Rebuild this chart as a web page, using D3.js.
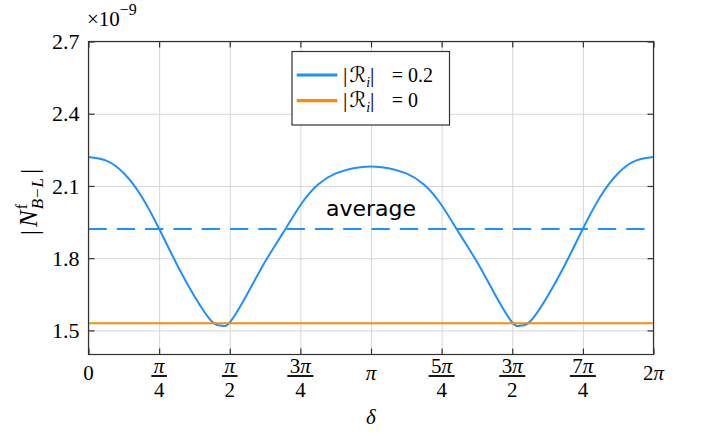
<!DOCTYPE html>
<html>
<head>
<meta charset="utf-8">
<script src="https://cdn.jsdelivr.net/npm/d3@7"></script>
<style>
  body { margin: 0; background: #fff; }
  svg { display: block; }
</style>
</head>
<body>
<div id="area"></div>
<script>
// delta in units of pi
var deltaPi = [0, 1/16, 2/16, 3/16, 4/16, 5/16, 6/16, 7/16, 0.47, 8/16, 9/16, 10/16, 11/16, 12/16, 13/16, 14/16, 15/16,
               1, 17/16, 18/16, 19/16, 20/16, 21/16, 22/16, 23/16, 24/16, 1.53, 25/16, 26/16, 27/16, 28/16, 29/16, 30/16, 31/16, 2];
// |N_B-L| (x 1e-9) for |R_i| = 0.2
var nbl = [2.220, 2.205, 2.153, 2.057, 1.922, 1.775, 1.642, 1.536, 1.520, 1.533, 1.652, 1.785, 1.903, 2.020, 2.106, 2.152, 2.174,
           2.181, 2.174, 2.152, 2.106, 2.020, 1.903, 1.785, 1.652, 1.533, 1.520, 1.536, 1.642, 1.775, 1.922, 2.057, 2.153, 2.205, 2.220];
// |R_i| = 0 is flat
var zeroDelta = [0, 2];
var nblZero = [1.53, 1.53];
var average = 1.921;
var averageLabel = {x: 1, y: 1.976, text: "average"};

var xTicks = [0, 0.25, 0.5, 0.75, 1, 1.25, 1.5, 1.75, 2];
// single label or [numerator, denominator]
var xTickLabels = [["0"], ["π", "4"], ["π", "2"], ["3π", "4"], ["π"], ["5π", "4"], ["3π", "2"], ["7π", "4"], ["2π"]];
var yTicks = [1.5, 1.8, 2.1, 2.4, 2.7];
var yDomain = [1.4, 2.7];
var legendValues = ["0.2", "0"];
var colors = ["#1e90ff", "#ff8c00"];

var width = 704, height = 434;
var margin_top = 41.5, margin_bottom = 79.5, margin_left = 88.5, margin_right = 50.5;
var w = width - margin_left - margin_right;
var h = height - margin_top - margin_bottom;
var serif = "'Liberation Serif', 'DejaVu Serif', serif";

var root = d3.select("#area")
.append("svg")
  .attr("width", width)
  .attr("height", height);

var svg = root.append("g")
  .attr("transform", "translate(" + margin_left + "," + margin_top + ")");

var x = d3.scaleLinear().domain([0, 2]).range([0, w]);
var y = d3.scaleLinear().domain(yDomain).range([h, 0]);

// grid
svg.append("g")
  .attr("transform", "translate(0," + h + ")")
  .call(d3.axisBottom(x).tickValues(xTicks).tickSize(-h).tickFormat(""))
  .call(function(g) { g.select(".domain").remove(); })
  .selectAll("line").attr("stroke", "#d6d6d6").attr("stroke-width", 1);
svg.append("g")
  .call(d3.axisLeft(y).tickValues(yTicks).tickSize(-w).tickFormat(""))
  .call(function(g) { g.select(".domain").remove(); })
  .selectAll("line").attr("stroke", "#d6d6d6").attr("stroke-width", 1);

// curves
var line = d3.line()
  .x(function(d) { return x(d[0]); })
  .y(function(d) { return y(d[1]); });

svg.append("path")
  .datum(deltaPi.map(function(d, i) { return [d, nbl[i]]; }))
  .attr("fill", "none")
  .attr("stroke", colors[0])
  .attr("stroke-width", 2)
  .attr("d", line.curve(d3.curveNatural));

svg.append("path")
  .datum(zeroDelta.map(function(d) { return [d, average]; }))
  .attr("fill", "none")
  .attr("stroke", colors[0])
  .attr("stroke-width", 2)
  .attr("stroke-dasharray", "18.3,10")
  .attr("d", line.curve(d3.curveLinear));

svg.append("path")
  .datum(zeroDelta.map(function(d, i) { return [d, nblZero[i]]; }))
  .attr("fill", "none")
  .attr("stroke", colors[1])
  .attr("stroke-width", 2)
  .attr("d", line.curve(d3.curveLinear));

svg.append("text")
  .attr("x", x(averageLabel.x))
  .attr("y", y(averageLabel.y))
  .attr("text-anchor", "middle")
  .style("font-family", "'DejaVu Sans', sans-serif")
  .style("font-size", "22px")
  .text(averageLabel.text);

// frame + inward ticks on all four sides
svg.append("rect")
  .attr("width", w).attr("height", h)
  .attr("fill", "none").attr("stroke", "#333").attr("stroke-width", 1.2);

function tidy(g) {
  g.select(".domain").remove();
  g.selectAll("line").attr("stroke", "#333").attr("stroke-width", 1.2);
}
svg.append("g").attr("transform", "translate(0," + h + ")")
  .call(d3.axisBottom(x).tickValues(xTicks).tickSize(-6).tickFormat("")).call(tidy);
svg.append("g")
  .call(d3.axisTop(x).tickValues(xTicks).tickSize(-6).tickFormat("")).call(tidy);
svg.append("g").attr("transform", "translate(" + w + ",0)")
  .call(d3.axisRight(y).tickValues(yTicks).tickSize(-6).tickFormat("")).call(tidy);
var yAxis = svg.append("g")
  .call(d3.axisLeft(y).tickValues(yTicks).tickSize(-6).tickPadding(9).tickFormat(d3.format(".1f")))
  .call(tidy);
yAxis.selectAll("text")
  .style("font-family", serif)
  .style("font-size", "22px")
  .attr("fill", "#000");

// pi labels, with real fractions
function piText(sel, s) {
  s.split("").forEach(function(c) {
    sel.append("tspan").style("font-style", c === "π" ? "italic" : "normal").text(c);
  });
}
var xl = svg.append("g").attr("transform", "translate(0," + h + ")");
xTicks.forEach(function(v, i) {
  var lab = xTickLabels[i];
  var g = xl.append("g").attr("transform", "translate(" + x(v) + ",0)")
    .style("font-family", serif).style("font-size", "21px");
  if (lab.length === 1) {
    var t = g.append("text").attr("y", 25.5).attr("text-anchor", "middle");
    piText(t, lab[0]);
  } else {
    var num = g.append("text").attr("y", 18.5).attr("text-anchor", "middle");
    piText(num, lab[0]);
    var bw = num.node().getComputedTextLength() + 5;
    g.append("rect").attr("x", -bw / 2).attr("y", 20.6).attr("width", bw).attr("height", 1.8).attr("fill", "#000");
    g.append("text").attr("y", 42).attr("text-anchor", "middle").text(lab[1]);
  }
});

svg.append("text")
  .attr("x", w / 2).attr("y", h + 69)
  .attr("text-anchor", "middle")
  .style("font-family", serif).style("font-size", "21px").style("font-style", "italic")
  .text("δ");

// y label |N^f_{B-L}|, laid out piece by piece then rotated
var yl = root.append("g").attr("transform", "translate(37,202) rotate(-90)")
  .style("font-family", serif);
var cx = 0;
function piece(txt, size, italic, dy) {
  var t = yl.append("text").attr("x", cx).attr("y", dy)
    .style("font-size", size + "px").style("font-style", italic ? "italic" : "normal").text(txt);
  return t;
}
var p1 = piece("|", 26, false, 1);
cx += p1.node().getComputedTextLength() + 3;
var p2 = piece("N", 25, true, 0);
cx += p2.node().getComputedTextLength() + 1;
var p3 = piece("f", 16, false, -10);
var p4 = piece("B\u2212L", 17, true, 6);
cx += Math.max(p3.node().getComputedTextLength(), p4.node().getComputedTextLength()) + 4;
piece("|", 26, false, 1);
cx += p1.node().getComputedTextLength();
yl.selectAll("text").attr("transform", "translate(" + (-cx / 2) + ",0)");

// x10^-9 multiplier
var mult = root.append("text").attr("x", 87).attr("y", 26)
  .style("font-family", serif).style("font-size", "21px");
mult.append("tspan").text("×10");
mult.append("tspan").attr("dy", -11).style("font-size", "16px").text("\u22129");

// legend
var lg = root.append("g").attr("transform", "translate(292,51.5)");
lg.append("rect").attr("width", 157.5).attr("height", 73.5)
  .attr("fill", "#fff").attr("stroke", "#333").attr("stroke-width", 1.2);
legendValues.forEach(function(v, i) {
  var yy = 23.5 + i * 25.7;
  lg.append("line").attr("x1", 4.7).attr("x2", 45.3).attr("y1", yy).attr("y2", yy)
    .attr("stroke", colors[i]).attr("stroke-width", 3.2);
  var t = lg.append("text").attr("x", 51).attr("y", yy + 6.5)
    .style("font-family", serif).style("font-size", "22px");
  t.append("tspan").text("|");
  t.append("tspan").style("font-family", "'DejaVu Serif', 'DejaVu Sans', serif").style("font-style", "italic")
    .style("font-size", "21px").attr("dx", 2).text("ℛ");
  t.append("tspan").attr("dy", 5).style("font-size", "14px").style("font-style", "italic").text("i");
  t.append("tspan").attr("dy", -5).text("|");
  lg.append("text").attr("x", 99.7).attr("y", yy + 6.5)
    .style("font-family", serif).style("font-size", "20px")
    .text("= " + v);
});
</script>
</body>
</html>
